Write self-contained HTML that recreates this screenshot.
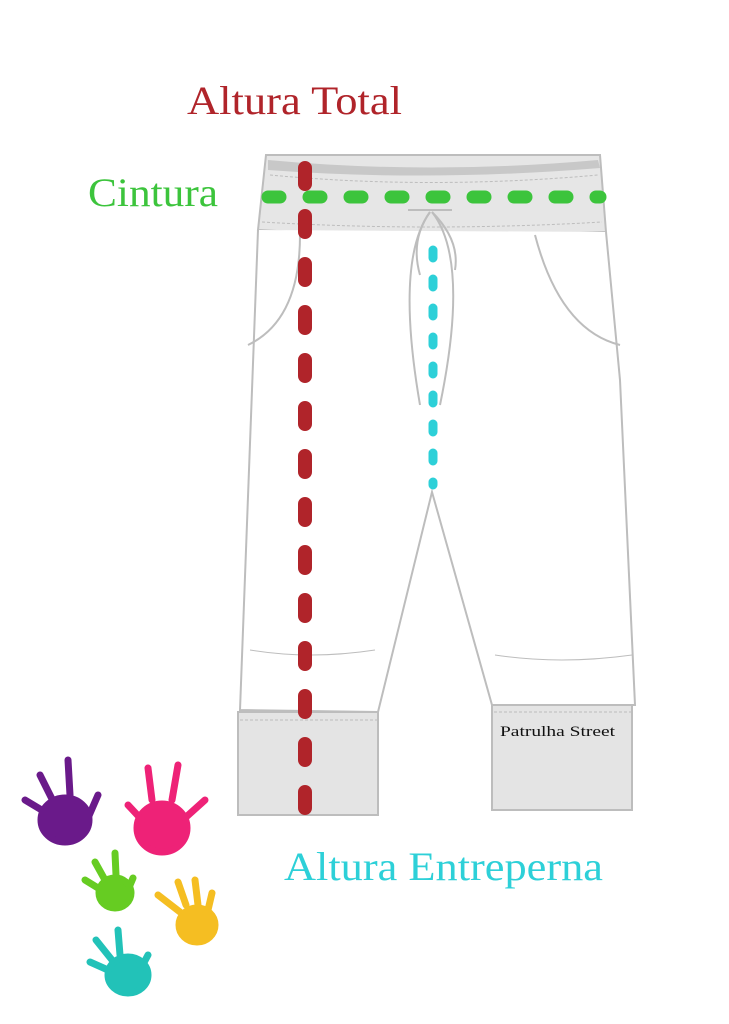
<!DOCTYPE html>
<html><head><meta charset="utf-8"><style>
body{margin:0;background:#fff;width:729px;height:1024px;overflow:hidden}
svg{display:block}
</style></head><body>
<svg width="729" height="1024" viewBox="0 0 729 1024" xmlns="http://www.w3.org/2000/svg">
<rect width="729" height="1024" fill="#fff"/>
<g fill="none" stroke="#bdbdbd" stroke-width="2">
<path d="M266 155 L600 155 L606 232 Q430 240 258 230 Z" fill="#e6e6e6"/>
<path d="M268 160 Q430 175 598 160 L600 168 Q430 182 268 170 Z" fill="#c8c8c8" stroke="none"/>
<path d="M270 175 Q430 190 598 175" stroke-dasharray="3 2" stroke-width="1"/>
<path d="M262 222 Q430 232 602 222" stroke-dasharray="3 2" stroke-width="1"/>
<path d="M258 230 L240 710 L378 712 L432 492 L492 705 L635 705 L620 380 L606 232" fill="#fff"/>
<path d="M300 235 Q300 320 248 345"/>
<path d="M535 235 Q560 330 620 345"/>
<path d="M408 210 L452 210 M430 212 Q395 260 420 405 M432 212 Q470 260 440 405"/>
<path d="M430 212 Q410 240 420 275 M432 212 Q460 240 455 270"/>
<path d="M250 650 Q310 660 375 650 M495 655 Q560 665 632 655" stroke-width="1"/>
<rect x="238" y="712" width="140" height="103" fill="#e4e4e4"/>
<rect x="492" y="705" width="140" height="105" fill="#e4e4e4"/>
<path d="M240 720 L378 720 M494 712 L632 712" stroke-dasharray="3 2" stroke-width="1"/>
</g>
<line x1="305" y1="168" x2="305" y2="808" stroke="#b0242a" stroke-width="14" stroke-linecap="round" stroke-dasharray="16 32"/>
<line x1="268" y1="197" x2="600" y2="197" stroke="#3cc43c" stroke-width="13" stroke-linecap="round" stroke-dasharray="12 29"/>
<line x1="433" y1="250" x2="433" y2="485" stroke="#2dd0d8" stroke-width="9" stroke-linecap="round" stroke-dasharray="8 21"/>
<text x="187" y="114" font-family="Liberation Serif, serif" font-size="40" fill="#b0242a" textLength="215" lengthAdjust="spacingAndGlyphs">Altura Total</text>
<text x="88" y="206" font-family="Liberation Serif, serif" font-size="40" fill="#3cc43c" textLength="130" lengthAdjust="spacingAndGlyphs">Cintura</text>
<text x="284" y="880" font-family="Liberation Serif, serif" font-size="40" fill="#2dd0d8" textLength="319" lengthAdjust="spacingAndGlyphs">Altura Entreperna</text>
<text x="500" y="736" font-family="Liberation Serif, serif" font-size="15" fill="#111" textLength="115" lengthAdjust="spacingAndGlyphs">Patrulha Street</text>
<g stroke-linecap="round" stroke-width="7">
<g stroke="#6a1a8a" fill="#6a1a8a"><ellipse cx="65" cy="820" rx="24" ry="22"/><path d="M25 800 L45 812 M40 775 L55 805 M68 760 L70 795 M98 795 L88 818"/></g>
<g stroke="#ee2277" fill="#ee2277"><ellipse cx="162" cy="828" rx="25" ry="24"/><path d="M128 805 L142 820 M148 768 L152 800 M178 765 L172 800 M205 800 L185 818"/></g>
<g stroke="#66cc22" fill="#66cc22"><ellipse cx="115" cy="893" rx="16" ry="15"/><path d="M85 880 L98 888 M95 862 L105 880 M115 853 L116 875 M133 878 L128 890"/></g>
<g stroke="#f5be22" fill="#f5be22"><ellipse cx="197" cy="925" rx="18" ry="17"/><path d="M158 895 L180 912 M178 882 L186 905 M195 880 L198 905 M212 893 L208 910"/></g>
<g stroke="#22c2b8" fill="#22c2b8"><ellipse cx="128" cy="975" rx="20" ry="18"/><path d="M90 962 L108 970 M96 940 L112 960 M118 930 L120 955 M148 955 L140 970"/></g>
</g>
</svg>
</body></html>
